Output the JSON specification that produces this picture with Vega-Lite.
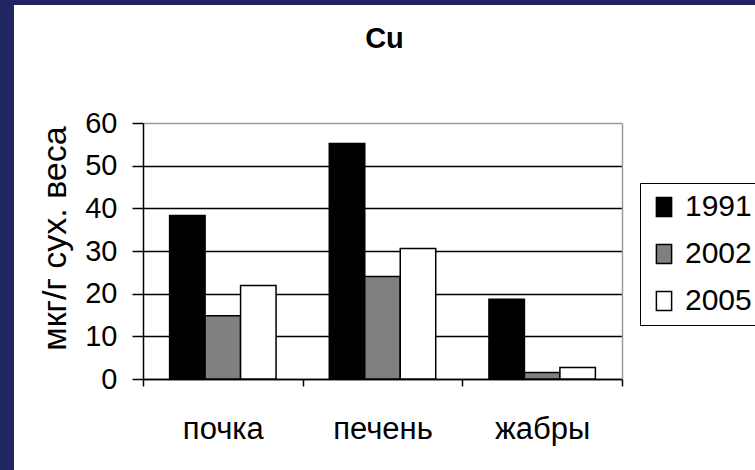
{
  "$schema": "https://vega.github.io/schema/vega-lite/v6.json",
  "width": 741,
  "height": 465,
  "autosize": "none",
  "padding": {"left": 14, "top": 5, "right": 0, "bottom": 0},
  "background": "#1f2562",
  "config": {"view": {"fill": "white", "stroke": null}},
  "title": {
    "text": "Cu",
    "font": "Liberation Sans",
    "fontSize": 29,
    "fontWeight": "bold",
    "color": "black",
    "anchor": "middle",
    "baseline": "alphabetic",
    "offset": -72
  },
  "data": {
    "values": [
      {"organ": "почка", "year": "1991", "value": 38.3},
      {"organ": "почка", "year": "2002", "value": 14.8},
      {"organ": "почка", "year": "2005", "value": 21.9},
      {"organ": "печень", "year": "1991", "value": 55.2},
      {"organ": "печень", "year": "2002", "value": 24.0},
      {"organ": "печень", "year": "2005", "value": 30.6},
      {"organ": "жабры", "year": "1991", "value": 18.7},
      {"organ": "жабры", "year": "2002", "value": 1.5},
      {"organ": "жабры", "year": "2005", "value": 2.7}
    ]
  },
  "resolve": {"axis": {"y": "independent"}},
  "layer": [
    {
      "mark": {"type": "bar", "stroke": "black", "strokeWidth": 1.5},
      "encoding": {
        "x": {
          "field": "organ",
          "type": "nominal",
          "sort": ["почка", "печень", "жабры"],
          "scale": {"range": [129, 608], "paddingInner": 0, "paddingOuter": 0},
          "axis": {
            "title": null,
            "offset": -91,
            "labelAngle": 0,
            "labelFont": "Liberation Sans",
            "labelFontSize": 31,
            "labelColor": "black",
            "labelBaseline": "alphabetic",
            "labelPadding": 52,
            "tickBand": "extent",
            "tickSize": 7,
            "tickColor": "black",
            "tickWidth": 1.5,
            "domainColor": "black",
            "domainWidth": 1.5
          }
        },
        "xOffset": {
          "field": "year",
          "type": "nominal",
          "scale": {"paddingInner": 0, "paddingOuter": 0.75}
        },
        "y": {
          "field": "value",
          "type": "quantitative",
          "scale": {"domain": [0, 60], "range": [374, 118], "nice": false},
          "axis": {
            "offset": -129,
            "values": [0, 10, 20, 30, 40, 50, 60],
            "grid": true,
            "gridColor": {"condition": {"test": "datum.value === 60", "value": "#9a9a9a"}, "value": "black"},
            "gridWidth": 1.5,
            "domainColor": "black",
            "domainWidth": 1.5,
            "tickColor": "black",
            "tickWidth": 1.5,
            "tickSize": 11,
            "labelFont": "Liberation Sans",
            "labelFontSize": 29,
            "labelColor": "black",
            "labelPadding": 15,
            "title": "мкг/г сух. веса",
            "titleFont": "Liberation Sans",
            "titleFontSize": 34,
            "titleFontWeight": "normal",
            "titleColor": "black",
            "titleBaseline": "alphabetic",
            "titleX": -78,
            "titleY": 233
          }
        },
        "color": {
          "field": "year",
          "type": "nominal",
          "scale": {"domain": ["1991", "2002", "2005"], "range": ["black", "#808080", "white"]},
          "legend": {
            "title": null,
            "orient": "none",
            "legendX": 626,
            "legendY": 178,
            "strokeColor": "black",
            "fillColor": "white",
            "padding": 9,
            "rowPadding": 17,
            "symbolType": "M-0.8,-1H0.8V1H-0.8Z",
            "symbolSize": 361,
            "symbolStrokeColor": "black",
            "symbolStrokeWidth": 1.5,
            "symbolOpacity": 1,
            "labelFont": "Liberation Sans",
            "labelFontSize": 30,
            "labelColor": "black",
            "labelOffset": 6
          }
        }
      }
    },
    {
      "mark": {"type": "point", "opacity": 0},
      "encoding": {
        "y": {
          "field": "value",
          "type": "quantitative",
          "scale": {"domain": [0, 60], "range": [374, 118], "nice": false},
          "axis": {
            "orient": "right",
            "offset": -133,
            "labels": false,
            "ticks": false,
            "grid": false,
            "title": null,
            "domainColor": "#9a9a9a",
            "domainWidth": 1.5
          }
        }
      }
    }
  ]
}
